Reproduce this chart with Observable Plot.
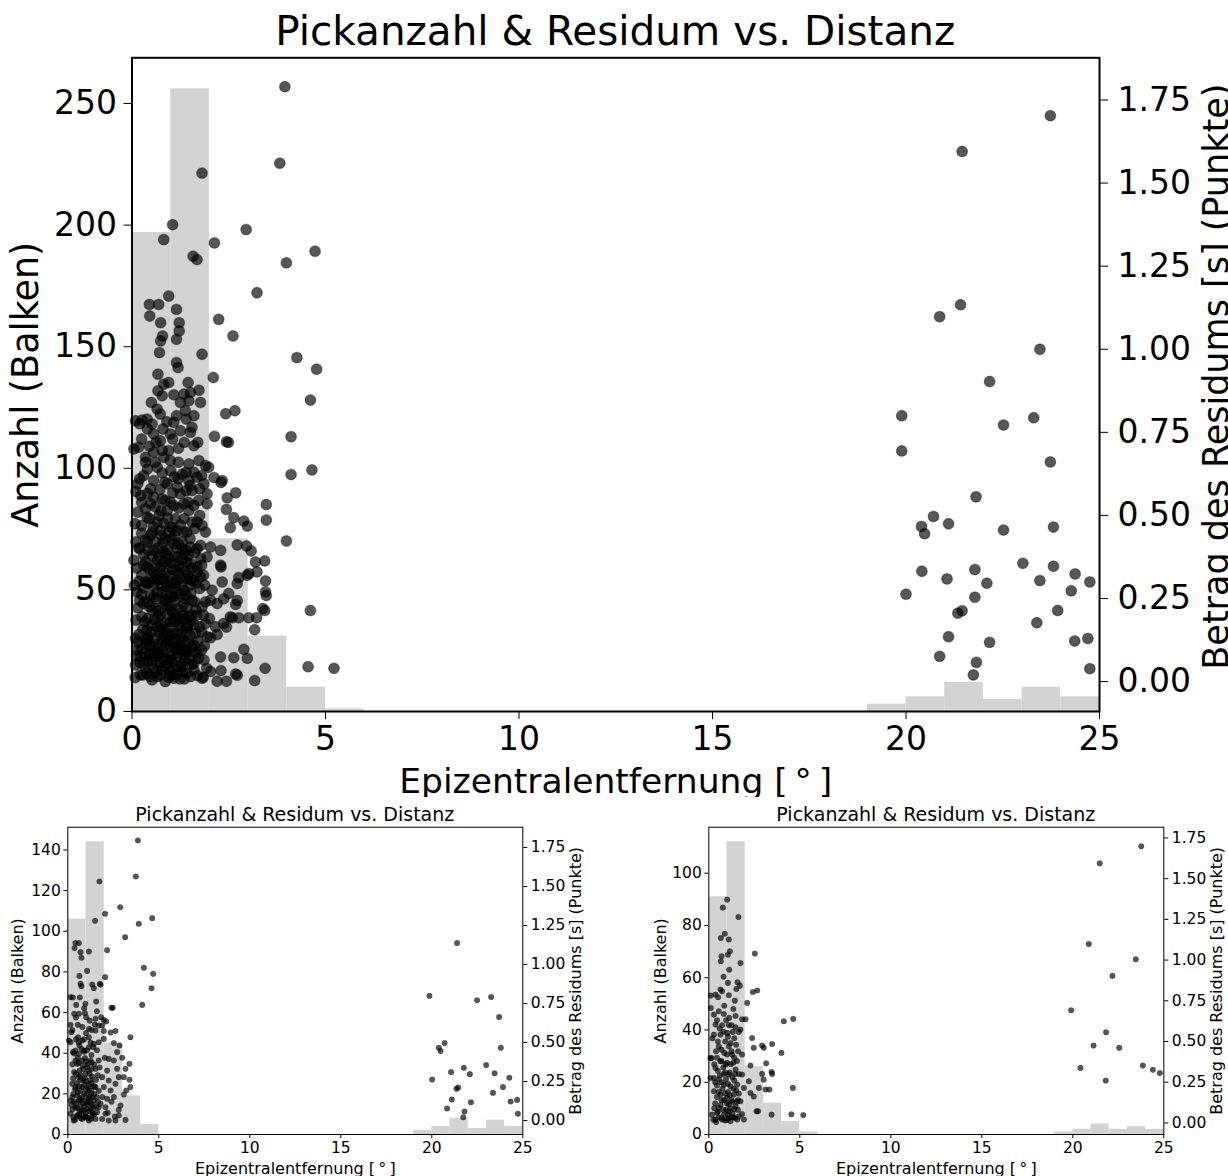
<!DOCTYPE html>
<html>
<head>
<meta charset="utf-8">
<script src="https://cdn.jsdelivr.net/npm/d3@7"></script>
<script src="https://cdn.jsdelivr.net/npm/@observablehq/plot@0.6"></script>
<style>
  body { margin: 0; background: #fff; }
  #page { position: relative; width: 1228px; height: 1176px; overflow: hidden; background: #fff; }
  .panel { position: absolute; overflow: hidden; }
  .panel svg { position: absolute; left: 0; top: 0; }
  .title { position: absolute; left: 0; width: 100%; text-align: center; color: #000;
           white-space: nowrap; font-family: "DejaVu Sans", sans-serif; }
</style>
</head>
<body>
<div id="page"></div>
<script>
// Epicentral distance bins, 1 degree wide, 0..25
const binEdges = d3.range(0, 26);
const xTicks = [0, 5, 10, 15, 20, 25];
const residualTicks = [0, 0.25, 0.5, 0.75, 1.0, 1.25, 1.5, 1.75];

// Pick counts per distance bin
const countsAll   = [197, 256, 71, 31, 10, 1, 0, 0, 0, 0, 0, 0, 0, 0, 0, 0, 0, 0, 0, 3, 6, 12, 5, 10, 6];
const countsLeft  = [106, 144, 45, 19, 5, 0, 0, 0, 0, 0, 0, 0, 0, 0, 0, 0, 0, 0, 0, 2, 4, 8, 3, 7, 4];
const countsRight = [91, 112, 26, 12, 5, 1, 0, 0, 0, 0, 0, 0, 0, 0, 0, 0, 0, 0, 0, 1, 2, 4, 2, 3, 2];

// Picks: [epicentral distance (deg), |residual| (s)]
const picksAll = [
  // large residuals near the source
  [3.95,1.79],[3.82,1.56],[1.81,1.53],[1.05,1.375],[0.82,1.33],[2.95,1.36],[2.13,1.32],[1.58,1.28],
  [1.68,1.27],[3.99,1.26],[4.73,1.295],[3.23,1.17],[2.24,1.09],[2.61,1.04],[4.26,0.975],[4.77,0.94],
  [1.81,0.985],[0.95,1.16],[0.45,1.135],[0.69,1.135],[0.46,1.10],[1.15,1.12],[1.22,1.08],[1.22,1.055],
  [0.74,1.08],[0.79,1.04],[0.74,1.025],[1.15,1.03],[0.71,0.99],[1.15,0.96],[1.19,0.945],
  // outer rim of the near cluster
  [4.61,0.847],[4.11,0.737],[4.65,0.637],[4.11,0.623],[3.47,0.533],[3.47,0.486],[3.99,0.423],[4.61,0.214],
  [4.55,0.045],[5.22,0.04],[3.44,0.04],[3.17,0.003],[2.10,0.915],[2.66,0.815],[2.42,0.806],[2.13,0.738],
  [2.44,0.722],[2.49,0.72],[3.43,0.363],[3.19,0.36],[3.45,0.303],[3.45,0.27],[3.47,0.259],[3.38,0.22],
  [3.43,0.214],[3.17,0.156],[2.89,0.097],[2.98,0.07],[2.63,0.072],[2.68,0.023],[2.29,0.074],[2.30,0.033],
  [2.20,0.001],[2.44,0.001],[2.72,0.019],[1.84,0.013],[2.89,0.483],[2.98,0.468],[2.63,0.493],[2.54,0.463],
  [2.44,0.518],[2.68,0.568],[2.46,0.553],[2.30,0.599],[2.12,0.614],[2.72,0.411],[2.96,0.408],[3.08,0.393],
  [2.30,0.345],[2.72,0.244],[2.68,0.232],[2.37,0.249],[2.59,0.192],[2.76,0.192],[3.02,0.192],[3.22,0.192],
  [2.44,0.164],[2.20,0.142],[1.87,0.107],[2.03,0.132],[3.23,0.33],[3.02,0.325],[2.76,0.313],
  // dense near cluster, 0..2 deg
  [0.67,0.925],[0.82,0.895],[0.67,0.875],[1.08,0.863],[1.34,0.865],[1.51,0.87],[1.73,0.877],[1.77,0.84],
  [1.47,0.845],[0.78,0.86],[0.09,0.785],[0.26,0.787],[0.39,0.79],[0.65,0.82],[0.73,0.805],[1.38,0.815],
  [1.08,0.78],[1.25,0.755],[1.51,0.75],[1.55,0.765],[0.99,0.745],[0.52,0.775],[0.56,0.745],[0.73,0.725],
  [0.17,0.705],[0.35,0.675],[0.56,0.69],[0.95,0.695],[0.99,0.665],[1.47,0.655],[1.73,0.665],[1.90,0.65],
  [1.98,0.645],[2.33,0.605],[0.65,0.645],[0.35,0.66],[0.82,0.675],
  [0.20,0.61],[0.56,0.605],[0.91,0.595],[1.17,0.585],[1.47,0.605],[1.68,0.615],[1.86,0.595],[1.94,0.565],
  [1.55,0.575],[0.23,0.56],[0.56,0.555],[0.78,0.55],[0.99,0.54],[1.25,0.565],[1.34,0.535],[1.94,0.535],
  [0.15,0.51],[0.39,0.495],[0.65,0.48],[0.91,0.515],[1.12,0.49],[1.47,0.515],[1.55,0.48],[1.81,0.47],
  [1.90,0.45],[0.48,0.44],[0.73,0.455],[0.99,0.465],[1.34,0.45],
  [0.20,0.40],[0.56,0.395],[0.82,0.39],[1.08,0.415],[1.30,0.42],[1.51,0.405],[1.77,0.41],[2.03,0.405],
  [2.29,0.395],[0.65,0.365],[0.91,0.355],[1.17,0.375],[1.42,0.36],[1.68,0.345],[1.94,0.375],[0.39,0.345],
  [0.61,0.32],[0.86,0.325],[1.12,0.335],[1.38,0.33],[2.29,0.35],
  [0.13,0.27],[0.39,0.295],[0.65,0.305],[0.91,0.285],[1.12,0.295],[1.34,0.275],[1.60,0.305],[1.77,0.315],
  [2.07,0.275],[2.33,0.30],[0.56,0.255],[0.82,0.245],[1.08,0.255],[1.34,0.235],[1.55,0.245],[1.81,0.225],
  [2.03,0.245],[0.30,0.235],[2.20,0.235],[2.50,0.265],[2.72,0.295],[2.98,0.32],
  [0.26,0.195],[0.52,0.215],[0.73,0.20],[0.99,0.215],[1.21,0.19],[1.47,0.195],[1.68,0.20],[1.90,0.175],
  [2.16,0.165],[2.37,0.175],[0.39,0.155],[0.65,0.165],[0.91,0.145],[1.17,0.145],[1.42,0.15],[1.64,0.145],
  [1.94,0.135],[0.09,0.13],[2.54,0.195],
  [0.13,0.095],[0.35,0.115],[0.56,0.105],[0.78,0.125],[0.99,0.105],[1.21,0.105],[1.42,0.095],[1.68,0.085],
  [0.09,0.05],[0.30,0.055],[0.52,0.065],[0.73,0.055],[0.95,0.065],[1.17,0.075],[1.38,0.065],[1.60,0.055],
  [1.86,0.065],[0.39,0.025],[0.65,0.015],[0.86,0.0],[1.08,0.01],[1.30,0.03],[1.51,0.015],[1.81,0.01],
  [2.03,0.03],[0.22,0.02],[0.78,0.035],[0.99,0.03],[0.22,0.075],[0.48,0.085],[0.69,0.085],
  [0.60,0.42],[0.85,0.43],[1.10,0.44],[1.30,0.40],[0.70,0.38],[0.95,0.37],[1.20,0.35],[1.45,0.38],
  [0.55,0.33],[0.80,0.31],[1.00,0.30],[1.25,0.31],[1.50,0.29],[0.65,0.27],[0.90,0.26],[1.15,0.27],
  [1.40,0.26],[0.60,0.22],[0.85,0.23],[1.05,0.21],[1.30,0.21],[1.55,0.20],[0.50,0.17],[0.75,0.17],
  [1.00,0.18],[1.25,0.16],[1.45,0.17],[0.60,0.13],[0.90,0.12],[1.10,0.13],[1.35,0.12],[1.60,0.11],
  [0.45,0.08],[0.70,0.08],[0.95,0.085],[1.20,0.085],[1.40,0.09],[0.55,0.04],[0.85,0.045],[1.05,0.04],
  [1.30,0.045],[1.60,0.035],[0.35,0.13],[0.30,0.35],[0.40,0.42],[0.35,0.30],[1.75,0.28],[1.85,0.32],
  [1.90,0.24],[2.00,0.19],
  [0.28,0.02],[0.47,0.015],[0.60,0.028],[0.95,0.012],[1.15,0.022],[1.24,0.008],[1.42,0.025],[1.70,0.018],
  [0.20,0.058],[0.40,0.062],[0.62,0.055],[0.83,0.068],[1.03,0.06],[1.27,0.052],[1.49,0.066],[1.72,0.07],
  [0.25,0.10],[0.45,0.108],[0.68,0.097],[0.88,0.112],[1.13,0.1],[1.32,0.094],[1.55,0.105],
  [0.18,0.142],[0.42,0.136],[0.70,0.148],[0.82,0.138],[1.04,0.145],[1.28,0.132],[1.50,0.14],[1.80,0.15],
  [0.33,0.18],[0.58,0.186],[0.86,0.176],[1.12,0.182],[1.36,0.188],[1.60,0.172],
  [0.15,0.222],[0.45,0.226],[0.70,0.215],[0.95,0.228],[1.18,0.22],[1.42,0.224],[1.65,0.218],
  [0.25,0.262],[0.48,0.258],[0.78,0.268],[1.02,0.256],[1.26,0.264],[1.52,0.266],
  [0.18,0.302],[0.45,0.298],[0.70,0.306],[0.90,0.292],[1.15,0.304],[1.42,0.31],[1.65,0.296],
  [0.12,0.342],[0.45,0.338],[0.75,0.346],[1.05,0.336],[1.28,0.344],[1.55,0.34],[1.80,0.35],
  [0.30,0.382],[0.52,0.378],[0.88,0.386],[1.10,0.376],[1.35,0.384],[1.62,0.388],
  [0.10,0.42],[0.35,0.426],[0.80,0.418],[1.02,0.428],[1.20,0.414],[1.50,0.43],
  [0.25,0.47],[0.55,0.466],[0.82,0.476],[1.05,0.462],[1.25,0.472],[1.68,0.48],
  [0.35,0.52],[0.60,0.526],[0.75,0.514],[1.20,0.522],[1.60,0.53],
  [0.10,0.572],[0.40,0.566],[0.72,0.578],[1.05,0.568],[1.40,0.574],[1.75,0.58],
  [0.30,0.62],[0.78,0.628],[1.10,0.616],[1.30,0.624],[1.60,0.63],
  [0.05,0.70],[0.45,0.708],[0.78,0.696],[1.20,0.702],[1.60,0.71],
  [0.20,0.776],[0.90,0.782],[1.40,0.79],
  [0.08,0.012],[0.35,0.04],[0.52,0.005],[0.74,0.02],[0.90,0.05],[1.02,0.018],[1.19,0.045],[1.35,0.008],
  [1.55,0.052],[1.93,0.04],[0.12,0.078],[0.33,0.085],[0.58,0.078],[0.80,0.09],[1.00,0.072],[1.16,0.096],
  [1.37,0.08],[1.62,0.088],[1.80,0.095],[0.16,0.118],[0.40,0.125],[0.63,0.112],[0.93,0.128],[1.07,0.118],
  [1.25,0.125],[1.46,0.118],[1.70,0.122],[0.28,0.158],[0.50,0.15],[0.77,0.158],[0.97,0.162],[1.22,0.168],
  [1.41,0.162],[1.75,0.165],[0.10,0.185],[0.40,0.19],[0.67,0.196],[0.92,0.2],[1.08,0.19],[1.32,0.198],
  [1.52,0.184],[1.85,0.2],[0.20,0.245],[0.38,0.24],[0.62,0.248],[0.87,0.244],[1.10,0.238],[1.36,0.25],
  [1.62,0.24],[0.06,0.29],[0.30,0.282],[0.55,0.288],[0.76,0.29],[1.05,0.282],[1.28,0.29],[1.52,0.306],
  [1.88,0.29],[0.25,0.32],[0.50,0.31],[0.72,0.328],[0.97,0.32],[1.20,0.326],[1.45,0.32],[1.68,0.33],
  [0.05,0.365],[0.35,0.362],[0.62,0.352],[0.83,0.36],[1.02,0.358],[1.28,0.366],[1.52,0.355],[1.78,0.37],
  [0.18,0.402],[0.42,0.395],[0.68,0.402],[0.93,0.398],[1.16,0.402],[1.40,0.395],[1.68,0.4],
  [0.25,0.446],[0.52,0.45],[0.76,0.44],[0.95,0.448],[1.15,0.455],[1.42,0.45],[1.62,0.46],
  [0.08,0.475],[0.45,0.49],[0.70,0.5],[0.92,0.492],[1.35,0.49],[1.75,0.5],
  [0.25,0.54],[0.48,0.535],[0.85,0.545],[1.08,0.53],[1.45,0.54],[1.72,0.545],
  [0.15,0.595],[0.48,0.58],[0.85,0.6],[1.20,0.61],[1.50,0.59],
  [0.40,0.64],[0.60,0.66],[1.00,0.635],[1.20,0.66],[1.40,0.63],[1.80,0.62],
  [0.25,0.73],[0.62,0.72],[1.05,0.73],[1.35,0.72],[1.70,0.72],
  [0.40,0.76],[0.80,0.76],[1.15,0.8],[1.60,0.80],[0.50,0.84],[1.25,0.84],[0.95,0.9],[1.45,0.9],
  // distant events, 19..25 deg
  [19.89,0.80],[19.89,0.694],[20.0,0.263],[20.40,0.467],[20.48,0.445],[20.71,0.497],[20.41,0.332],[21.10,0.475],
  [21.06,0.309],[20.87,0.076],[21.10,0.135],[21.34,0.206],[21.45,0.213],[21.81,0.556],[21.78,0.337],[21.78,0.254],
  [21.82,0.058],[21.74,0.02],[22.09,0.296],[22.16,0.118],[22.16,0.903],[22.52,0.772],[22.52,0.456],[23.02,0.356],
  [23.30,0.794],[23.46,0.304],[23.38,0.177],[23.73,0.661],[23.81,0.465],[23.81,0.347],[23.92,0.214],[24.27,0.273],
  [24.37,0.324],[24.36,0.122],[24.70,0.13],[24.75,0.30],[24.75,0.039],[23.73,1.703],[21.45,1.595],[21.41,1.134],
  [20.87,1.098],[23.46,1.0]
];

const picksLeft = [
  [3.85,1.795],[3.74,1.564],[1.74,1.532],[2.88,1.367],[2.05,1.325],[1.50,1.28],[4.64,1.297],[3.90,1.261],
  [3.15,1.175],[2.16,1.092],[4.18,0.979],[4.69,0.94],[4.60,0.848],[4.09,0.741],[2.05,0.919],[1.06,0.959],
  [1.16,1.083],[0.42,1.137],[0.61,1.137],[0.37,1.105],[0.70,1.079],[0.75,1.043],[0.64,0.927],[0.70,0.876],
  [0.75,0.861],[1.34,0.872],[1.43,0.848],[1.76,0.876],[1.80,0.87],[1.56,0.763],[0.15,0.791],[0.28,0.788],
  [0.66,0.788],[0.46,0.741],[0.97,0.748],[2.40,0.722],[2.47,0.722],
  [0.35,0.684],[0.61,0.684],[0.94,0.688],[1.01,0.662],[0.15,0.613],[0.55,0.613],[0.20,0.566],[0.06,0.513],
  [0.15,0.502],[0.57,0.534],[0.64,0.481],[0.28,0.438],[1.52,0.652],[1.83,0.662],[1.98,0.645],[2.11,0.635],
  [1.48,0.615],[1.70,0.609],[1.89,0.609],[1.16,0.588],[1.52,0.577],[1.98,0.573],[2.35,0.564],[2.62,0.573],
  [3.44,0.534],[2.53,0.496],[2.84,0.481],[2.71,0.438],[2.99,0.402],[3.39,0.363],[3.17,0.331],[2.53,0.385],
  [2.25,0.395],[2.03,0.402],[1.70,0.385],[1.25,0.385],[0.79,0.385],[0.51,0.363],[1.06,0.342],[1.52,0.331],
  [2.16,0.32],[2.71,0.331],[2.80,0.278],[3.08,0.278],[3.39,0.261],[3.44,0.214],[3.21,0.192],[3.08,0.167],
  [2.62,0.235],[2.25,0.256],[1.89,0.278],[1.34,0.282],[0.97,0.299],[0.61,0.278],[0.24,0.235],[0.42,0.214],
  [0.79,0.214],[1.16,0.192],[1.52,0.214],[1.98,0.214],[2.35,0.192],[0.15,0.128],[0.61,0.128],[1.06,0.107],
  [1.43,0.128],[1.80,0.107],[2.16,0.139],[2.53,0.15],[2.90,0.096],[0.15,0.043],[0.51,0.032],[0.88,0.064],
  [1.25,0.075],[1.61,0.053],[2.07,0.043],[2.58,0.026],[2.80,0.032],[3.17,0.004],[2.80,0.068],[0.33,0.0],
  [0.79,0.01],[1.16,0.0],[1.52,0.01],[1.89,0.01],[2.25,0.0],[2.62,0.0],[0.42,0.085],[0.97,0.021],
  [1.34,0.032],[1.70,0.085],[2.07,0.085],[0.70,0.096],[0.42,0.385],[0.61,0.427],[0.88,0.449],[1.16,0.47],
  [1.43,0.491],[1.70,0.502],[1.98,0.523],[1.16,0.534],[0.79,0.513],[0.42,0.449],
  [0.95,0.40],[1.10,0.36],[0.85,0.33],[1.20,0.30],[0.70,0.26],[1.00,0.25],[1.30,0.24],[0.55,0.18],
  [0.90,0.17],[1.20,0.15],[1.45,0.17],[0.65,0.06],[1.00,0.05],[1.35,0.10],[1.10,0.12],[0.85,0.11],
  [1.39,0.215],
  [0.30,0.02],[0.55,0.03],[0.72,0.015],[1.00,0.025],[1.28,0.01],[1.45,0.04],[0.25,0.07],[0.50,0.08],
  [0.75,0.065],[1.05,0.075],[1.20,0.06],[1.55,0.09],[0.35,0.12],[0.65,0.14],[0.95,0.13],[1.25,0.11],
  [1.60,0.15],[0.30,0.17],[0.70,0.19],[1.00,0.20],[1.30,0.18],[1.70,0.19],[0.50,0.24],[0.85,0.26],
  [1.15,0.23],[1.55,0.26],[0.35,0.31],[0.65,0.32],[1.30,0.33],[1.75,0.34],[0.55,0.40],[0.90,0.44],
  [1.30,0.42],[1.60,0.45],[0.25,0.36],[2.20,0.05],[2.40,0.12],[1.90,0.15],[0.45,0.52],[1.00,0.56],
  [0.40,0.005],[0.62,0.04],[0.85,0.03],[1.10,0.015],[1.35,0.05],[0.20,0.10],[0.45,0.11],[0.70,0.13],
  [0.92,0.09],[1.15,0.14],[1.40,0.08],[1.65,0.12],[0.25,0.15],[0.52,0.16],[0.80,0.15],[1.05,0.17],
  [1.35,0.15],[0.40,0.20],[0.62,0.22],[0.90,0.23],[1.10,0.21],[1.45,0.22],[0.30,0.27],[0.70,0.29],
  [0.95,0.27],[1.25,0.26],[1.65,0.29],[0.45,0.30],[0.82,0.35],[1.15,0.32],[1.45,0.36],[0.60,0.37],
  [1.00,0.38],[1.30,0.37],[0.35,0.43],[0.75,0.46],[1.05,0.45],[1.40,0.47],[0.60,0.50],[0.90,0.52],
  [1.25,0.50],[0.25,0.58],[0.80,0.60],[1.30,0.58],[0.45,0.66],[1.20,0.64],[0.90,0.72],[1.60,0.70],
  [21.39,1.137],[19.87,0.799],[22.49,0.771],[23.26,0.792],[23.70,0.663],[20.39,0.466],[20.48,0.445],
  [20.70,0.496],[23.79,0.466],[20.02,0.263],[21.06,0.31],[21.76,0.338],[22.09,0.297],[22.99,0.355],[23.45,0.303],
  [21.36,0.203],[21.45,0.212],[21.10,0.135],[20.84,0.077],[21.80,0.058],[21.73,0.021],[22.15,0.117],[23.36,0.177],
  [23.91,0.214],[24.26,0.274],[24.33,0.122],[24.69,0.132],[24.73,0.043]
];

const picksRight = [
  [1.01,1.371],[0.77,1.322],[1.63,1.265],[0.88,1.162],[1.10,1.126],[0.66,1.136],[1.16,1.054],[1.05,1.033],
  [0.70,1.023],[0.66,0.993],[1.12,0.941],[1.74,0.982],[2.53,1.04],[0.81,0.898],[1.05,0.86],[1.58,0.864],
  [1.71,0.843],[1.52,0.823],[2.42,0.804],[2.66,0.813],[2.11,0.737],[4.12,0.624],[4.64,0.639],
  [0.64,0.819],[0.37,0.788],[0.11,0.782],[0.51,0.772],[0.73,0.808],[1.10,0.784],[1.43,0.751],
  [0.11,0.706],[0.28,0.665],[0.55,0.686],[0.83,0.669],[1.12,0.645],[1.47,0.657],[1.83,0.637],[2.02,0.637],
  [0.37,0.604],[0.73,0.60],[1.10,0.60],[1.47,0.587],[1.74,0.573],[0.28,0.542],[0.64,0.542],[1.01,0.553],
  [1.32,0.559],[1.65,0.559],[2.38,0.522],[2.47,0.461],[2.93,0.475],[3.02,0.461],[3.48,0.485],[3.99,0.43],
  [3.15,0.366],[2.29,0.352],[2.93,0.301],[3.45,0.313],[3.48,0.301],[3.02,0.266],[2.75,0.215],[2.29,0.184],
  [2.47,0.162],[3.12,0.205],[3.33,0.205],[4.62,0.215],[2.62,0.072],[2.71,0.072],[3.45,0.051],[4.54,0.053],
  [5.19,0.049],[0.15,0.399],[0.40,0.44],[0.64,0.379],[0.92,0.358],[1.28,0.42],[1.61,0.44],[1.83,0.42],
  [1.10,0.297],[1.47,0.328],[1.83,0.297],[0.28,0.276],[0.55,0.266],[0.83,0.235],[1.19,0.225],[1.56,0.235],
  [1.93,0.215],[2.20,0.256],[0.28,0.195],[0.64,0.174],[1.01,0.154],[1.38,0.174],[1.74,0.133],[1.10,0.113],
  [1.47,0.102],[0.55,0.092],[0.18,0.051],[0.46,0.062],[0.83,0.051],[1.10,0.031],[1.38,0.035],[1.83,0.055],
  [1.93,0.021],[0.37,0.021],[0.73,0.021],[1.19,0.01],[1.56,0.021],[0.09,0.276],[0.09,0.399],[0.37,0.338],
  [0.90,0.50],[1.20,0.49],[0.55,0.47],[1.00,0.42],[1.35,0.37],[0.80,0.30],[1.25,0.14],[0.95,0.08],
  [1.30,0.06],[1.60,0.08],
  [0.25,0.02],[0.55,0.035],[0.90,0.015],[1.05,0.05],[1.45,0.03],[0.30,0.09],[0.65,0.11],[0.85,0.14],
  [1.20,0.09],[1.55,0.13],[0.45,0.16],[0.75,0.21],[1.05,0.19],[1.35,0.21],[1.65,0.18],[0.35,0.25],
  [0.95,0.27],[1.30,0.28],[1.65,0.3],[0.50,0.32],[0.80,0.34],[1.20,0.36],[1.55,0.38],[0.45,0.40],
  [0.70,0.45],[1.10,0.47],[1.40,0.52],[0.20,0.52],[0.60,0.58],[0.95,0.63],
  [0.40,0.005],[0.70,0.03],[1.00,0.02],[1.25,0.035],[1.65,0.04],[0.50,0.07],[0.80,0.08],[1.10,0.07],
  [1.40,0.085],[0.35,0.12],[0.70,0.14],[1.00,0.12],[1.30,0.13],[1.60,0.14],[0.55,0.19],[0.90,0.18],
  [1.15,0.17],[1.50,0.2],[0.45,0.23],[0.70,0.25],[1.05,0.24],[1.40,0.26],[0.60,0.29],[0.90,0.31],
  [1.15,0.31],[1.45,0.3],[0.30,0.36],[0.70,0.38],[1.00,0.37],[1.40,0.4],[0.85,0.43],[1.25,0.44],
  [0.50,0.50],[1.05,0.53],[1.50,0.48],[0.80,0.56],[1.25,0.60],[0.45,0.63],[0.85,0.72],[1.35,0.70],
  [23.76,1.699],[21.48,1.594],[20.88,1.099],[23.46,1.005],[22.18,0.903],[19.91,0.692],[21.83,0.557],[21.14,0.475],
  [22.55,0.461],[20.42,0.338],[23.85,0.352],[24.40,0.326],[24.78,0.307],[21.81,0.26]
];

const titleText = "Pickanzahl & Residum vs. Distanz";
const xLabel = "Epizentralentfernung [\u2009°\u2009]";
const yLabelLeft = "Anzahl (Balken)";
const yLabelRight = "Betrag des Residums [s] (Punkte)";

const toBars = counts => counts.map((n, i) => ({lo: binEdges[i], hi: binEdges[i + 1], n}));
const toPicks = arr => arr.map(([d, r]) => ({d, r}));

function drawPanel(cfg) {
  const page = document.getElementById("page");
  const box = document.createElement("div");
  box.className = "panel";
  Object.assign(box.style, {left: cfg.left + "px", top: cfg.top + "px", width: cfg.w + "px", height: cfg.boxH + "px"});
  page.appendChild(box);

  const font = {fontFamily: "DejaVu Sans", fontSize: cfg.fs + "px", color: "black"};
  const dims = {
    width: cfg.w, height: cfg.h,
    marginLeft: cfg.ml, marginRight: cfg.mr, marginTop: cfg.mt, marginBottom: cfg.mb
  };

  // histogram of pick counts, left axis
  const base = Plot.plot({
    ...dims,
    style: {...font, background: "white", overflow: "visible"},
    x: {domain: [0, 25]},
    y: {domain: [0, cfg.yMax]},
    marks: [
      Plot.rectY(toBars(cfg.counts), {x1: "lo", x2: "hi", y: "n", fill: "#d3d3d3"}),
      Plot.axisX({ticks: xTicks, tickSize: cfg.tick, tickPadding: cfg.pad, tickFormat: d => String(d), label: null}),
      Plot.axisY({ticks: cfg.yTicks, tickSize: cfg.tick, tickPadding: cfg.pad, tickFormat: d => String(d), label: null}),
      Plot.text([xLabel], {frameAnchor: "bottom", dy: cfg.xdy, lineAnchor: "middle", textAnchor: "middle",
        fontSize: cfg.xfs, fill: "black"}),
      Plot.text([yLabelLeft], {frameAnchor: "left", dx: cfg.ldx, rotate: -90, lineAnchor: "middle",
        textAnchor: "middle", fontSize: cfg.lfs, fill: "black"}),
      Plot.frame({stroke: "black", strokeWidth: cfg.sw})
    ]
  });

  // residual scatter, right axis
  const over = Plot.plot({
    ...dims,
    style: {...font, background: "transparent", overflow: "visible"},
    x: {domain: [0, 25], axis: null},
    y: {domain: cfg.rDomain},
    marks: [
      Plot.dot(toPicks(cfg.picks), {x: "d", y: "r", r: cfg.dotR, fill: "black", fillOpacity: 0.66,
        stroke: "black", strokeOpacity: 0.35, strokeWidth: cfg.dotStroke}),
      Plot.axisY({anchor: "right", ticks: residualTicks, tickFormat: d3.format(".2f"),
        tickSize: cfg.tick, tickPadding: cfg.rpad, label: null}),
      Plot.text([yLabelRight], {frameAnchor: "right", dx: cfg.rdx, dy: cfg.rdy, rotate: -90, lineAnchor: "middle",
        textAnchor: "middle", fontSize: cfg.rfs, fill: "black"})
    ]
  });

  box.appendChild(base);
  box.appendChild(over);

  const t = document.createElement("div");
  t.className = "title";
  Object.assign(t.style, {top: cfg.titleTop + "px", fontSize: cfg.tfs + "px", lineHeight: cfg.tfs + "px",
    left: cfg.ml + "px", width: (cfg.w - cfg.ml - cfg.mr) + "px"});
  t.textContent = titleText;
  box.appendChild(t);
}

// large panel
drawPanel({
  left: 0, top: 0, w: 1228, boxH: 797, h: 840,
  ml: 131.5, mr: 129, mt: 57.3, mb: 129,
  yMax: 268.8, yTicks: [0, 50, 100, 150, 200, 250], rDomain: [-0.09, 1.877],
  counts: countsAll, picks: picksAll,
  fs: 33, lfs: 36.5, rfs: 35, xfs: 34.5, tfs: 40.5, tick: 8, pad: 7, rpad: 10, sw: 2,
  xdy: 70, ldx: -105.5, rdx: 117, rdy: -8,
  dotR: 5.4, dotStroke: 1.2, titleTop: 10.5
});

// lower left panel
drawPanel({
  left: 0, top: 797, w: 614, boxH: 379, h: 379,
  ml: 67.3, mr: 91.7, mt: 29.7, mb: 42,
  yMax: 151.2, yTicks: [0, 20, 40, 60, 80, 100, 120, 140], rDomain: [-0.0897, 1.88],
  counts: countsLeft, picks: picksLeft,
  fs: 15.5, lfs: 16, rfs: 16, xfs: 16, tfs: 19, tick: 4, pad: 3, rpad: 4, sw: 1,
  xdy: 34, ldx: -50, rdx: 53, rdy: 0,
  dotR: 2.8, dotStroke: 0.6, titleTop: 8
});

// lower right panel
drawPanel({
  left: 614, top: 797, w: 614, boxH: 379, h: 379,
  ml: 94.3, mr: 64.7, mt: 29.7, mb: 42,
  yMax: 117.6, yTicks: [0, 20, 40, 60, 80, 100], rDomain: [-0.071, 1.816],
  counts: countsRight, picks: picksRight,
  fs: 15.5, lfs: 16, rfs: 16, xfs: 16, tfs: 19, tick: 4, pad: 3, rpad: 4, sw: 1,
  xdy: 34, ldx: -48.3, rdx: 53, rdy: 0,
  dotR: 2.8, dotStroke: 0.6, titleTop: 8
});
</script>
</body>
</html>
